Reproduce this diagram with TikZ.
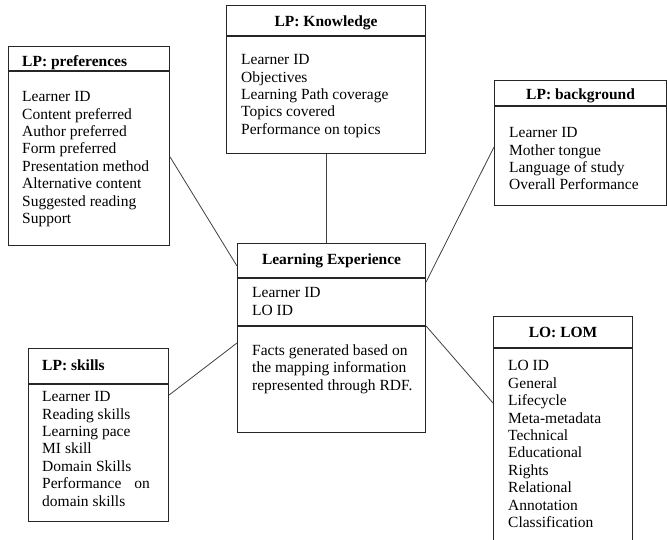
\documentclass[tikz,border=0pt]{standalone}
\usepackage{fontspec}
\setmainfont{Liberation Serif}
\usetikzlibrary{positioning}
\tikzset{
    tablebox/.style={rectangle, draw=black!85, line width=1.1pt, inner sep=0pt, anchor=north west},
    titletext/.style={font=\fontsize{15.5}{17.4}\selectfont\bfseries, inner sep=0pt, anchor=base},
    listtext/.style={font=\fontsize{15.5}{17.4}\selectfont, align=left, inner sep=0pt, anchor=north west},
    sepline/.style={black!85, line width=1.1pt},
    link/.style={black!75, line width=0.8pt},
}

\begin{document}
\begin{tikzpicture}[x=1pt,y=-1pt]
\useasboundingbox (0,0) rectangle (667,540);

% Top - LP: Knowledge
\node[tablebox, minimum width=199pt, minimum height=148pt] (know) at (226,5) {};
\node[titletext] (knowtitle) at ([yshift=-22pt]know.north) {LP: Knowledge};
\draw[sepline] ([yshift=-31pt]know.north west) -- ([yshift=-31pt]know.north east);
\node[listtext] (knowlist) at ([xshift=15pt,yshift=-49.4pt]know.north west) {Learner ID\\Objectives\\Learning Path coverage\\Topics covered\\Performance on topics};

% Left - LP: preferences
\node[tablebox, minimum width=161pt, minimum height=199pt] (pref) at (8,46) {};
\node[titletext, anchor=base west] (preftitle) at ([xshift=14pt,yshift=-21pt]pref.north west) {LP: preferences};
\draw[sepline] ([yshift=-25pt]pref.north west) -- ([yshift=-25pt]pref.north east);
\node[listtext] (preflist) at ([xshift=14pt,yshift=-45.4pt]pref.north west) {Learner ID\\Content preferred\\Author preferred\\Form preferred\\Presentation method\\Alternative content\\Suggested reading\\Support};

% Right - LP: background
\node[tablebox, minimum width=172pt, minimum height=125pt] (back) at (494,80) {};
\node[titletext] (backtitle) at ([yshift=-20pt]back.north) {LP: background};
\draw[sepline] ([yshift=-26pt]back.north west) -- ([yshift=-26pt]back.north east);
\node[listtext] (backlist) at ([xshift=15pt,yshift=-47.4pt]back.north west) {Learner ID\\Mother tongue\\Language of study\\Overall Performance};

% Middle - Learning Experience
\node[tablebox, minimum width=188pt, minimum height=189pt] (expr) at (237,243) {};
\node[titletext] (exprtitle) at ([yshift=-22pt]expr.north) {Learning Experience};
\draw[sepline] ([yshift=-35pt]expr.north west) -- ([yshift=-35pt]expr.north east);
\draw[sepline] ([yshift=-83pt]expr.north west) -- ([yshift=-83pt]expr.north east);
\node[listtext] (exprids) at ([xshift=15pt,yshift=-44.4pt]expr.north west) {Learner ID\\LO ID};
\node[listtext] (exprfacts) at ([xshift=15pt,yshift=-101.4pt]expr.north west) {Facts generated based on\\the mapping information\\represented through RDF.};

% Bottom left - LP: skills
\node[tablebox, minimum width=140pt, minimum height=173pt] (skills) at (28,348) {};
\node[titletext, anchor=base west] (skillstitle) at ([xshift=14pt,yshift=-22pt]skills.north west) {LP: skills};
\draw[sepline] ([yshift=-36pt]skills.north west) -- ([yshift=-36pt]skills.north east);
\node[listtext] (skillslist) at ([xshift=14pt,yshift=-43.4pt]skills.north west) {Learner ID\\Reading skills\\Learning pace\\MI skill\\Domain Skills\\Performance\hspace{13pt}on\\domain skills};

% Bottom right - LO: LOM
\node[tablebox, minimum width=139pt, minimum height=232pt] (lom) at (493,316) {};
\node[titletext] (lomtitle) at ([yshift=-21pt]lom.north) {LO: LOM};
\draw[sepline] ([yshift=-32pt]lom.north west) -- ([yshift=-32pt]lom.north east);
\node[listtext] (lomlist) at ([xshift=15pt,yshift=-44.4pt]lom.north west) {LO ID\\General\\Lifecycle\\Meta-metadata\\Technical\\Educational\\Rights\\Relational\\Annotation\\Classification};

% Links to the Learning Experience
\draw[link] ([yshift=-111pt]pref.north east) -- ([yshift=-23pt]expr.north west);
\draw[link] (know.south) -- (know.south |- expr.north);
\draw[link] ([yshift=-67pt]back.north west) -- ([yshift=-39pt]expr.north east);
\draw[link] ([yshift=-47pt]skills.north east) -- ([yshift=-100pt]expr.north west);
\draw[link] ([yshift=-83pt]expr.north east) -- ([yshift=-87pt]lom.north west);
\end{tikzpicture}
\end{document}
